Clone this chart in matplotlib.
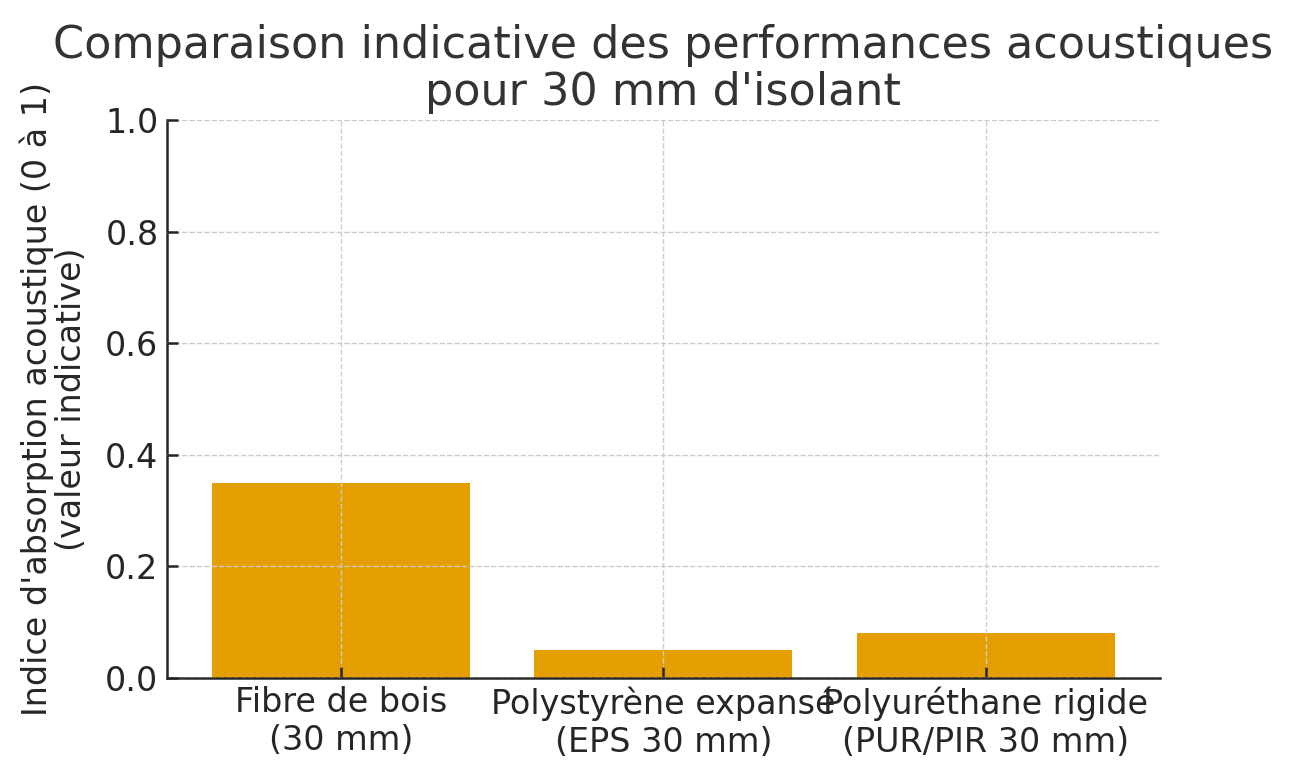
import matplotlib
matplotlib.use("Agg")
import matplotlib.pyplot as plt

materials = ["Fibre de bois\n(30 mm)", "Polystyrène expansé\n(EPS 30 mm)", "Polyuréthane rigide\n(PUR/PIR 30 mm)"]
absorption = [0.35, 0.05, 0.08]
yticks = [0.0, 0.2, 0.4, 0.6, 0.8, 1.0]

txt = "#262626"

fig, ax = plt.subplots(figsize=(12.93, 7.8), dpi=100)
fig.subplots_adjust(left=0.129, right=0.897, top=0.846, bottom=0.131)

ax.bar(materials, absorption, width=0.8, color="#E69F00", zorder=1)
ax.set_ylim(0, 1)
ax.set_yticks(yticks)
ax.set_yticklabels([f"{v:.1f}" for v in yticks])

ax.grid(True, linestyle="--", color="#cccccc", linewidth=1, zorder=2)
ax.set_axisbelow(False)
for s in ["top", "right"]:
    ax.spines[s].set_visible(False)
for s in ["left", "bottom"]:
    ax.spines[s].set_linewidth(1.8)
    ax.spines[s].set_color(txt)

ax.tick_params(direction="in", length=8, width=1.8, color=txt, labelsize=24, labelcolor=txt, pad=6)
ax.set_ylabel("Indice d'absorption acoustique (0 à 1)\n(valeur indicative)", fontsize=24, color=txt,
              linespacing=1.05, labelpad=12)
ax.set_title("Comparaison indicative des performances acoustiques\npour 30 mm d'isolant", fontsize=32,
             color="#333333", linespacing=1.12, pad=11)

fig.savefig("out.png", dpi=100)
